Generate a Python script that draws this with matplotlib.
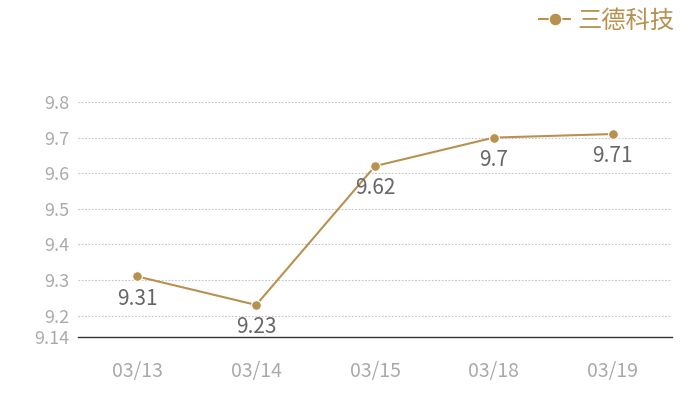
import matplotlib
matplotlib.use('Agg')
import matplotlib.pyplot as plt

plt.rcParams['font.family'] = ['Noto Sans CJK SC', 'DejaVu Sans']
plt.rcParams['font.weight'] = 'light'

dates = ['03/13', '03/14', '03/15', '03/18', '03/19']
values = [9.31, 9.23, 9.62, 9.70, 9.71]
labels = ['9.31', '9.23', '9.62', '9.7', '9.71']
yticks = [9.14, 9.2, 9.3, 9.4, 9.5, 9.6, 9.7, 9.8]

color = '#B8914F'

fig = plt.figure(figsize=(7, 4), dpi=100)
ax = fig.add_axes([0.1114, 0.1575, 0.8486, 0.5875])

x = list(range(len(dates)))
line, = ax.plot(x, values, color=color, linewidth=1.5, marker='o',
                markersize=7, markeredgecolor='white', markeredgewidth=0.8,
                label='三德科技', zorder=3)

for xi, v, t in zip(x, values, labels):
    ax.annotate(t, (xi, v), xytext=(0, -8), textcoords='offset points',
                ha='center', va='top', fontsize=15, color='#666666')

ax.set_xlim(-0.5, len(dates) - 0.5)
ax.set_ylim(9.14, 9.8)
ax.set_xticks(x)
ax.set_xticklabels(dates)
ax.set_yticks(yticks)
ax.set_yticklabels([f'{t:g}' for t in yticks])
ax.tick_params(axis='x', length=0, labelsize=14, colors='#aaaaaa', pad=17)
ax.tick_params(axis='y', length=0, labelsize=13, colors='#aaaaaa', pad=6)

for t in yticks[1:]:
    ax.axhline(t, color='#c4c4c4', linewidth=0.8, linestyle=(0, (1.5, 1.5)), zorder=1)

for s in ['top', 'right', 'left']:
    ax.spines[s].set_visible(False)
ax.spines['bottom'].set_color('#333333')
ax.spines['bottom'].set_linewidth(1)

fig.legend(handles=[line], loc='upper right', bbox_to_anchor=(0.995, 1.035),
           frameon=False, fontsize=17.5, labelcolor=color, handlelength=1.3,
           handletextpad=0.3, markerscale=1.3)

fig.savefig('out.png', dpi=100)
